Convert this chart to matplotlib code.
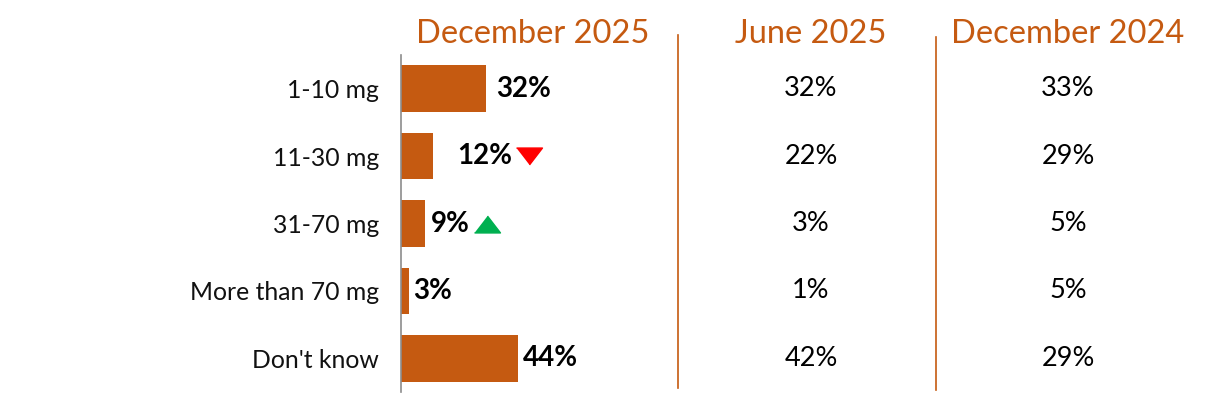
import matplotlib.pyplot as plt
from matplotlib.lines import Line2D
from matplotlib.transforms import blended_transform_factory, offset_copy

# survey data
categories = ['1-10 mg', '11-30 mg', '31-70 mg', 'More than 70 mg', "Don't know"]
dec_2025 = [32, 12, 9, 3, 44]
jun_2025 = [32, 22, 3, 1, 42]
dec_2024 = [33, 29, 5, 5, 29]
change = [None, 'down', 'up', None, None]
headers = ['December 2025', 'June 2025', 'December 2024']

orange = '#C55A11'
plt.rcParams['font.family'] = ['Lato', 'DejaVu Sans']

W, H = 1206, 399
fig = plt.figure(figsize=(W / 100, H / 100), dpi=100)

# bar axes: left edge at px 401, 2.65 px per percent
ax_left, ax_right, ax_top, ax_bot = 401, 678, 55, 392
ax = fig.add_axes([ax_left / W, 1 - ax_bot / H, (ax_right - ax_left) / W, (ax_bot - ax_top) / H])
ax.set_xlim(0, (ax_right - ax_left) / 2.65)
ax.set_ylim(len(categories) - 0.5, -0.5)

y = list(range(len(categories)))
ax.barh(y, dec_2025, height=0.69, color=orange)

for s in ['top', 'right', 'bottom']:
    ax.spines[s].set_visible(False)
ax.spines['left'].set_color('#8c8c8c')
ax.spines['left'].set_linewidth(1.2)
ax.set_xticks([])
ax.set_yticks(y)
ax.set_yticklabels(categories, fontsize=17.8, color='#111111')
ax.tick_params(axis='y', length=0, pad=16)

# value labels next to bars (pixel gaps)
label_pad = [10, 24, 6, 4, 5]
labels = []
for i, v in enumerate(dec_2025):
    tr = offset_copy(ax.transData, fig=fig, x=label_pad[i] * 0.72, y=0, units='points')
    t = ax.text(v, i, f'{v}%', transform=tr, ha='left', va='center',
                fontsize=20, fontweight='bold', color='black')
    labels.append(t)

# arrows for significant change, just right of the label
tri_down = [(-1, 0.65), (1, 0.65), (0, -0.65)]
tri_up = [(-1, -0.65), (1, -0.65), (0, 0.65)]
fig.canvas.draw()
renderer = fig.canvas.get_renderer()
for i, t in enumerate(labels):
    if change[i] is None:
        continue
    bb = t.get_window_extent(renderer)
    _, ym = ax.transData.transform((0, i))
    xd, yd = ax.transData.inverted().transform((bb.x1 + 17, ym))
    if change[i] == 'down':
        ax.plot(xd, yd, marker=tri_down, color='#FF0000', markersize=18.7, clip_on=False)
    else:
        ax.plot(xd, yd, marker=tri_up, color='#00B050', markersize=18.7, clip_on=False)

# other columns as text
col_x = [533, 811, 1068]
trans = blended_transform_factory(fig.transFigure, ax.transData)
for i in range(len(categories)):
    ax.text(col_x[1] / W, i, f'{jun_2025[i]}%', transform=trans, ha='center', va='center',
            fontsize=19.5, color='black')
    ax.text(col_x[2] / W, i, f'{dec_2024[i]}%', transform=trans, ha='center', va='center',
            fontsize=19.5, color='black')

for cx, h in zip(col_x, headers):
    fig.text(cx / W, 1 - 43 / H, h, ha='center', va='baseline', fontsize=23.5, color=orange)

# separators
fig.add_artist(Line2D([678 / W, 678 / W], [1 - 35 / H, 1 - 388 / H], color=orange, lw=1.2))
fig.add_artist(Line2D([936 / W, 936 / W], [1 - 37 / H, 1 - 390 / H], color=orange, lw=1.2))

fig.savefig('out.png', dpi=100)
